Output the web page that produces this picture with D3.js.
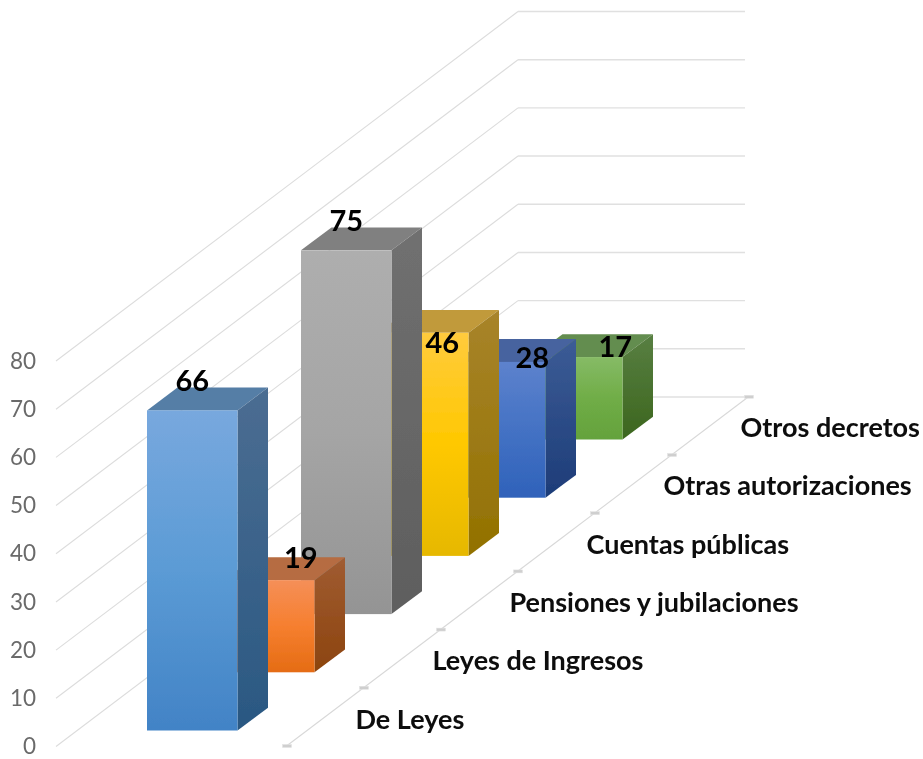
<!DOCTYPE html>
<html><head><meta charset="utf-8">
<script src="https://cdn.jsdelivr.net/npm/d3@7"></script>
<style>html,body{margin:0;padding:0;background:#fff}svg{display:block}text{font-family:Lato,"Open Sans",sans-serif}</style>
</head><body><svg id="c" width="923" height="759"></svg>
<script>
const categories = ["De Leyes","Leyes de Ingresos","Pensiones y jubilaciones","Cuentas públicas","Otras autorizaciones","Otros decretos"];
const values = [66,19,75,46,28,17];
const axisTicks = [0,10,20,30,40,50,60,70,80];
const faceFront = [["#78a8de","#5b9bd5","#4283c6"],["#f58f58","#f67f2f","#e56c14"],["#aeaeae","#a5a5a5","#949494"],["#ffcb3d","#ffc800","#e6b800"],["#5d82cd","#4472c4","#2f62ba"],["#86bb66","#70ad47","#64a23c"]];
const faceSide = [["#4b6d92","#2a5882"],["#a05c32","#8c440e"],["#707070","#5e5e5e"],["#a8842a","#927100"],["#3c5c96","#1d3c78"],["#587f42","#3c661e"]];
const faceTop = ["#557ea6","#b66c42","#808080","#c19a3a","#46639f","#648d4f"];

const svg = d3.select("#c");
const defs = svg.append("defs");
defs.append("filter").attr("id","soft").attr("filterUnits","userSpaceOnUse").attr("x",0).attr("y",0).attr("width",923).attr("height",759)
  .append("feGaussianBlur").attr("stdDeviation",0.5);
const root = svg.append("g").attr("filter","url(#soft)");
const yScale = d3.scaleLinear().domain([0,80]).range([746.5,361]);
const barH = d3.scaleLinear().domain([0,80]).range([0,388]);
const idx = d3.range(categories.length);
const floorX = d3.scaleLinear().domain([0,1]).range([0,77]);
const floorY = d3.scaleLinear().domain([0,1]).range([0,-58.2]);
const barW = 90.5, dX = 30.5, dY = -22.8, x0 = 147, y0 = 730.5;
const line = d3.line();

const wallDX = 462, wallDY = -349.5, wallX = 56, wallEnd = 745;
const grid = root.append("g");
axisTicks.forEach(t=>{
  const y = yScale(t);
  grid.append("path").attr("d",line([[wallX,y],[wallX+wallDX,y+wallDY]])).attr("fill","none").attr("stroke","#dcdcdc").attr("stroke-width",1.1);
  grid.append("path").attr("d",line([[wallX+wallDX,y+wallDY],[wallEnd,y+wallDY]])).attr("fill","none").attr("stroke","#e0e0e0").attr("stroke-width",1.4);
});
const fx = 286.5, fy = 746;
grid.append("path").attr("d",line([[fx,fy],[fx+floorX(6),fy+floorY(6)]])).attr("fill","none").attr("stroke","#d8d8d8").attr("stroke-width",1.1);
d3.range(7).forEach(i=>{
  grid.append("rect").attr("x",fx+floorX(i)-4).attr("y",fy+floorY(i)-1.5).attr("width",9).attr("height",3).attr("fill","#cfcfcf").attr("stroke","#e4e4e4").attr("stroke-width",.5);
});

function grad(id,stops){
  const g = defs.append("linearGradient").attr("id",id).attr("x1",0).attr("y1",0).attr("x2",0).attr("y2",1);
  stops.forEach((c,i)=>g.append("stop").attr("offset",i/(stops.length-1)).attr("stop-color",c));
  return `url(#${id})`;
}
const bars = root.append("g");
idx.slice().reverse().forEach(i=>{
  const l = x0+floorX(i), b = y0+floorY(i), r = l+barW, t = b-barH(values[i]);
  const g = bars.append("g");
  g.append("path").attr("d",line([[l,t],[l+dX,t+dY],[r+dX,t+dY],[r,t]])+"Z").attr("fill",faceTop[i]);
  g.append("path").attr("d",line([[r,t],[r+dX,t+dY],[r+dX,b+dY],[r,b]])+"Z").attr("fill",grad("s"+i,faceSide[i]));
  g.append("rect").attr("x",l).attr("y",t).attr("width",barW).attr("height",barH(values[i])).attr("fill",grad("f"+i,faceFront[i]));
});
const labelNudgeX = [0,31.5,0,19,32,38];
const labelNudgeY = [-30,-23,-29.5,10,-4,-10];
idx.forEach(i=>{
  const l = x0+floorX(i), b = y0+floorY(i), t = b-barH(values[i]);
  root.append("text").attr("x",l+barW/2+labelNudgeX[i]).attr("y",t+labelNudgeY[i]).attr("dy","0.36em")
    .attr("text-anchor","middle").attr("font-size",29).attr("font-weight",700).attr("fill","#000").text(values[i]);
});
const ax = root.append("g").attr("transform","translate(36,0)").call(d3.axisLeft(yScale).tickValues(axisTicks).tickSize(0).tickPadding(0));
ax.select(".domain").remove();
ax.selectAll("text").attr("font-size",22.5).attr("fill","#6b6b6b").style("font-family","Lato");
const catX = d3.scalePoint().domain(categories).range([355.5,355.5+77*5]);
const catY = d3.scalePoint().domain(categories).range([719,719-58.4*5]);
categories.forEach(c=>{
  root.append("text").attr("x",catX(c)).attr("y",catY(c)).attr("dy","0.36em").attr("font-size",27).attr("font-weight",700).attr("fill","#0a0a0a").text(c);
});
</script></body></html>
